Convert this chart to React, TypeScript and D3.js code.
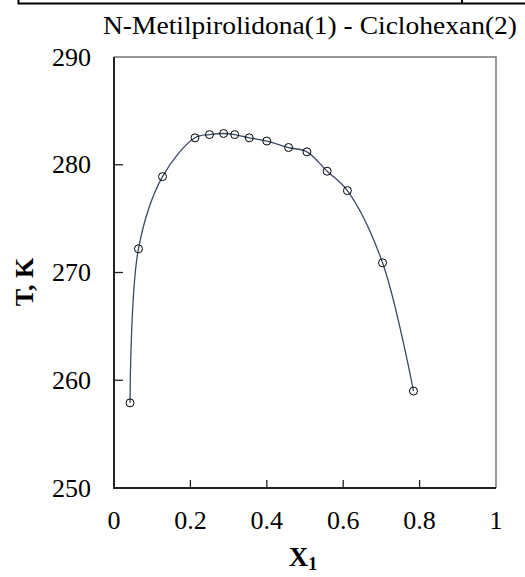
import React, { useRef, useEffect } from "react";
import * as d3 from "d3";

// mole fraction of N-methylpyrrolidone and liquidus temperature
const x1Values = [0.042, 0.064, 0.127, 0.212, 0.25, 0.287, 0.316, 0.354, 0.4, 0.457, 0.505, 0.558, 0.611, 0.703, 0.784];
const tValues = [257.9, 272.2, 278.9, 282.5, 282.8, 282.9, 282.8, 282.5, 282.2, 281.6, 281.2, 279.4, 277.6, 270.9, 259.0];
const xTicks = [0, 0.2, 0.4, 0.6, 0.8, 1];
const yTicks = [250, 260, 270, 280, 290];

const App = () => {
  const svgRef = useRef<SVGSVGElement>(null);

  useEffect(() => {
    const width = 525;
    const height = 577;
    const margin = { top: 57, right: 29, bottom: 89, left: 114 };
    const font = "Liberation Serif";

    const svg = d3.select(svgRef.current);
    svg.selectAll("*").remove();

    const xScale = d3.scaleLinear().domain([0, 1]).range([margin.left, width - margin.right]);
    const yScale = d3.scaleLinear().domain([250, 290]).range([height - margin.bottom, margin.top]);

    // table border at top
    svg.append("path")
      .attr("d", `M18.5,0 V3.5 H525 M462,0 V3.5`)
      .attr("fill", "none")
      .attr("stroke", "#000")
      .attr("stroke-width", 2);

    // title
    svg.append("text")
      .attr("x", 310)
      .attr("y", 34)
      .attr("text-anchor", "middle")
      .style("font-family", font)
      .attr("font-size", 26)
      .attr("textLength", 414)
      .attr("lengthAdjust", "spacingAndGlyphs")
      .text("N-Metilpirolidona(1) - Ciclohexan(2)");

    // frame
    const x0 = xScale(0), x1 = xScale(1), y0 = yScale(250), y1 = yScale(290);
    svg.append("path")
      .attr("d", `M${x0},${y1} H${x1} V${y0}`)
      .attr("fill", "none")
      .attr("stroke", "#777")
      .attr("stroke-width", 1.5);
    svg.append("path")
      .attr("d", `M${x0},${y1} V${y0} H${x1}`)
      .attr("fill", "none")
      .attr("stroke", "#222")
      .attr("stroke-width", 2);

    // ticks, pointing inwards
    svg.append("g").selectAll("line")
      .data(yTicks.slice(1, -1))
      .join("line")
      .attr("x1", x0).attr("x2", x0 + 9)
      .attr("y1", (d) => yScale(d)).attr("y2", (d) => yScale(d))
      .attr("stroke", "#222").attr("stroke-width", 1.3);
    svg.append("g").selectAll("line")
      .data(xTicks.slice(1, -1))
      .join("line")
      .attr("x1", (d) => xScale(d)).attr("x2", (d) => xScale(d))
      .attr("y1", y0).attr("y2", y0 - 8)
      .attr("stroke", "#222").attr("stroke-width", 1.3);

    // tick labels
    svg.append("g").selectAll("text")
      .data(yTicks)
      .join("text")
      .attr("x", 91)
      .attr("y", (d) => yScale(d) + 8.5)
      .attr("text-anchor", "end")
      .style("font-family", font)
      .attr("font-size", 26)
      .text((d) => d);
    svg.append("g").selectAll("text")
      .data(xTicks)
      .join("text")
      .attr("x", (d) => xScale(d))
      .attr("y", 529)
      .attr("text-anchor", "middle")
      .style("font-family", font)
      .attr("font-size", 26)
      .text((d) => d);

    // axis titles
    const xt = svg.append("text")
      .attr("x", 303)
      .attr("y", 566)
      .attr("text-anchor", "middle")
      .style("font-family", font)
      .attr("font-size", 27)
      .attr("font-weight", "bold");
    xt.append("tspan").text("X");
    xt.append("tspan").attr("dy", 4).attr("font-size", 18).text("1");

    svg.append("text")
      .attr("transform", `translate(33,282) rotate(-90)`)
      .attr("text-anchor", "middle")
      .style("font-family", font)
      .attr("font-size", 26)
      .attr("font-weight", "bold")
      .text("T, K");

    const points = x1Values.map((x, i) => [x, tValues[i]] as [number, number]);

    const line = d3.line<[number, number]>()
      .x((d) => xScale(d[0]))
      .y((d) => yScale(d[1]))
      .curve(d3.curveCatmullRom.alpha(0.5));

    svg.append("path")
      .datum(points)
      .attr("d", line)
      .attr("fill", "none")
      .attr("stroke", "#3b4a63")
      .attr("stroke-width", 1.3);

    svg.append("g").selectAll("circle")
      .data(points)
      .join("circle")
      .attr("cx", (d) => xScale(d[0]))
      .attr("cy", (d) => yScale(d[1]))
      .attr("r", 4)
      .attr("fill", "none")
      .attr("stroke", "#000")
      .attr("stroke-width", 1);
  }, []);

  return (
    <svg
      ref={svgRef}
      width={525}
      height={577}
      style={{ position: "absolute", left: 0, top: 0, background: "#fff" }}
    ></svg>
  );
};

export default App;
